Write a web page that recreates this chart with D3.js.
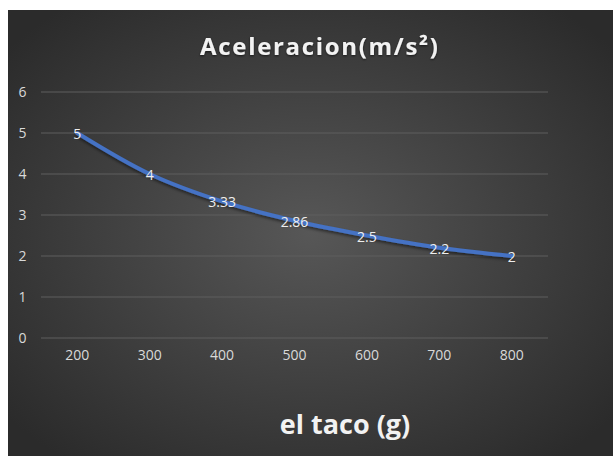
<!DOCTYPE html>
<html><head><meta charset="utf-8">
<script src="https://cdn.jsdelivr.net/npm/d3@7"></script>
<style>body{margin:0;background:#fff;}svg{display:block;}</style>
</head><body>
<svg id="c" width="613" height="456"></svg>
<script>
const categories = ["200","300","400","500","600","700","800"];
const values = [5, 4, 3.33, 2.86, 2.5, 2.2, 2];
const valueLabels = ["5","4","3.33","2.86","2.5","2.2","2"];
const yTicks = [0,1,2,3,4,5,6];
const title = "Aceleracion(m/s²)";
const xTitle = "el taco (g)";

const svg = d3.select("#c");
const defs = svg.append("defs");
const grad = defs.append("radialGradient").attr("id","bg")
  .attr("cx","50%").attr("cy","50%").attr("r","65%");
grad.append("stop").attr("offset","0%").attr("stop-color","#575757");
grad.append("stop").attr("offset","100%").attr("stop-color","#2b2b2b");
const sh = defs.append("filter").attr("id","sh").attr("x","-10%").attr("y","-10%").attr("width","120%").attr("height","140%");
sh.append("feDropShadow").attr("dx",0).attr("dy",2).attr("stdDeviation",1.5).attr("flood-color","#000").attr("flood-opacity",0.5);
const tsh = defs.append("filter").attr("id","tsh");
tsh.append("feDropShadow").attr("dx",0).attr("dy",1).attr("stdDeviation",1).attr("flood-color","#000").attr("flood-opacity",0.6);

svg.append("rect").attr("x",8).attr("y",10).attr("width",605).attr("height",446).attr("fill","url(#bg)");

const x = d3.scaleBand().domain(categories).range([41,548]);
const y = d3.scaleLinear().domain([0,6]).range([338,92]);
const font = "'Open Sans', 'Liberation Sans', sans-serif";

// gridlines
svg.append("g").selectAll("line").data(yTicks).join("line")
  .attr("x1",41).attr("x2",548)
  .attr("y1",d=>y(d)).attr("y2",d=>y(d))
  .attr("stroke","#5e5e5e").attr("stroke-width",1);

// y axis labels
const yAxis = d3.axisLeft(y).tickValues(yTicks).tickFormat(d3.format("d")).tickSize(0).tickPadding(0);
const gy = svg.append("g").attr("transform","translate(22.5,0)").call(yAxis);
gy.select(".domain").remove();
gy.selectAll("text").attr("fill","#d9d9d9").attr("font-size",14).attr("font-family",font).attr("text-anchor","middle");

// x axis labels
const xAxis = d3.axisBottom(x).tickSize(0).tickPadding(0);
const gx = svg.append("g").attr("transform","translate(0,350)").call(xAxis);
gx.select(".domain").remove();
gx.selectAll("text").attr("fill","#d9d9d9").attr("font-size",14).attr("font-family",font);

// line
const cx = d => x(d) + x.bandwidth()/2;
const line = d3.line().x((d,i)=>cx(categories[i])).y(d=>y(d)).curve(d3.curveCatmullRom.alpha(0.5));
svg.append("path").datum(values).attr("d",line)
  .attr("fill","none").attr("stroke","#4472c4").attr("stroke-width",4)
  .attr("stroke-linecap","round").attr("filter","url(#sh)");

// data labels
svg.append("g").selectAll("text").data(values).join("text")
  .attr("x",(d,i)=>cx(categories[i]))
  .attr("y",d=>y(d)+6)
  .attr("text-anchor","middle")
  .attr("fill","#eeeeee").attr("font-size",14).attr("font-family",font)
  .text((d,i)=>valueLabels[i]);

// title
svg.append("text").attr("x",200).attr("y",55)
  .attr("textLength",238).attr("lengthAdjust","spacing")
  .attr("fill","#f2f2f2").attr("font-size",24).attr("font-weight","bold")
  .attr("font-family",font).attr("filter","url(#tsh)").text(title);

// x title
svg.append("text").attr("x",345).attr("y",434).attr("text-anchor","middle")
  .attr("fill","#f2f2f2").attr("font-size",27).attr("font-weight","bold")
  .attr("font-family",font).text(xTitle);
</script>
</body></html>
